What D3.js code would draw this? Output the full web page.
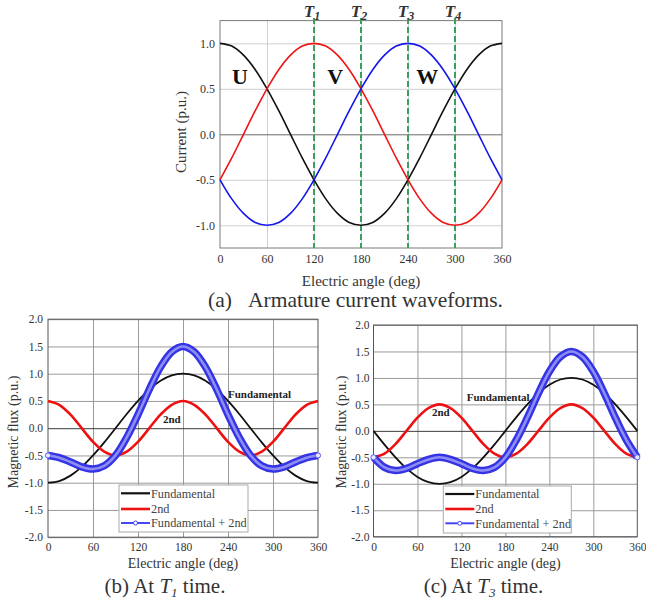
<!DOCTYPE html>
<html>
<head>
<meta charset="utf-8">
<script src="https://cdn.jsdelivr.net/npm/d3@7"></script>
<style>
  body { margin: 0; background: #fff; }
  svg { display: block; }
  text { font-family: "Liberation Serif", "Times New Roman", serif; fill: #333; }
</style>
</head>
<body>
<div id="fig"></div>
<script>
var angles = [0,15,30,45,60,75,90,105,120,135,150,165,180,195,210,225,240,255,270,285,300,315,330,345,360];
var xTicks = [0,60,120,180,240,300,360];
var currentTicks = [-1,-0.5,0,0.5,1];
var fluxTicks = [-2,-1.5,-1,-0.5,0,0.5,1,1.5,2];

// (a) three phase currents
var phaseU = [1.00,0.97,0.87,0.71,0.50,0.26,0.00,-0.26,-0.50,-0.71,-0.87,-0.97,-1.00,-0.97,-0.87,-0.71,-0.50,-0.26,0.00,0.26,0.50,0.71,0.87,0.97,1.00];
var phaseV = [-0.50,-0.26,0.00,0.26,0.50,0.71,0.87,0.97,1.00,0.97,0.87,0.71,0.50,0.26,0.00,-0.26,-0.50,-0.71,-0.87,-0.97,-1.00,-0.97,-0.87,-0.71,-0.50];
var phaseW = [-0.50,-0.71,-0.87,-0.97,-1.00,-0.97,-0.87,-0.71,-0.50,-0.26,0.00,0.26,0.50,0.71,0.87,0.97,1.00,0.97,0.87,0.71,0.50,0.26,0.00,-0.26,-0.50];
var phaseNames = ["U","V","W"];
var instants = [120,180,240,300];
var instantNames = ["1","2","3","4"];

// (b) at T1
var fundB = [-1.00,-0.97,-0.87,-0.71,-0.50,-0.26,0.00,0.26,0.50,0.71,0.87,0.97,1.00,0.97,0.87,0.71,0.50,0.26,0.00,-0.26,-0.50,-0.71,-0.87,-0.97,-1.00];
var secondB = [0.50,0.43,0.25,0.00,-0.25,-0.43,-0.50,-0.43,-0.25,0.00,0.25,0.43,0.50,0.43,0.25,0.00,-0.25,-0.43,-0.50,-0.43,-0.25,0.00,0.25,0.43,0.50];
var sumB = [-0.50,-0.54,-0.62,-0.71,-0.75,-0.69,-0.50,-0.17,0.25,0.71,1.12,1.40,1.50,1.40,1.12,0.71,0.25,-0.17,-0.50,-0.69,-0.75,-0.71,-0.62,-0.54,-0.50];

// (c) at T3
var fundC = [0.00,-0.26,-0.50,-0.71,-0.87,-0.97,-1.00,-0.97,-0.87,-0.71,-0.50,-0.26,0.00,0.26,0.50,0.71,0.87,0.97,1.00,0.97,0.87,0.71,0.50,0.26,0.00];
var secondC = [-0.50,-0.43,-0.25,0.00,0.25,0.43,0.50,0.43,0.25,0.00,-0.25,-0.43,-0.50,-0.43,-0.25,0.00,0.25,0.43,0.50,0.43,0.25,0.00,-0.25,-0.43,-0.50];
var sumC = [-0.50,-0.69,-0.75,-0.71,-0.62,-0.54,-0.50,-0.54,-0.62,-0.71,-0.75,-0.69,-0.50,-0.17,0.25,0.71,1.12,1.40,1.50,1.40,1.12,0.71,0.25,-0.17,-0.50];

var legendNames = ["Fundamental","2nd","Fundamental + 2nd"];

var width = 646, height = 601;
var svg = d3.select("#fig").append("svg")
  .attr("width", width)
  .attr("height", height);

// builds one plot frame with grid + tick labels, returns scales
function panel(o) {
  var x = d3.scaleLinear().domain([0,360]).range([o.left, o.right]);
  var y = d3.scaleLinear().domain(o.yDom).range([o.bottom, o.top]);
  var g = svg.append("g");

  g.append("g")
    .attr("transform", "translate(0," + o.bottom + ")")
    .call(d3.axisBottom(x).tickValues(xTicks.slice(1,-1)).tickSize(-(o.bottom - o.top)).tickFormat(""))
    .call(function(s){ s.select(".domain").remove(); })
    .selectAll("line").attr("stroke", o.grid);

  g.append("g")
    .attr("transform", "translate(" + o.left + ",0)")
    .call(d3.axisLeft(y).tickValues(o.yTicks).tickSize(-(o.right - o.left)).tickFormat(""))
    .call(function(s){ s.select(".domain").remove(); })
    .selectAll("line").attr("stroke", function(d){ return d === 0 ? o.zero : o.grid; });

  g.append("rect")
    .attr("x", o.left).attr("y", o.top)
    .attr("width", o.right - o.left).attr("height", o.bottom - o.top)
    .attr("fill", "none").attr("stroke", o.frame);

  var xa = g.append("g")
    .attr("transform", "translate(0," + o.bottom + ")")
    .call(d3.axisBottom(x).tickValues(xTicks).tickSize(0).tickPadding(o.padX));
  xa.select(".domain").remove();
  xa.attr("font-size", o.tickFont);

  var ya = g.append("g")
    .attr("transform", "translate(" + o.left + ",0)")
    .call(d3.axisLeft(y).tickValues(o.yTicks).tickSize(0).tickPadding(o.padY)
      .tickFormat(function(d){ return d.toFixed(1); }));
  ya.select(".domain").remove();
  ya.attr("font-size", o.tickFont);

  g.append("text")
    .attr("x", (o.left + o.right) / 2).attr("y", o.xTitleY)
    .attr("text-anchor", "middle").attr("font-size", o.titleFont)
    .text("Electric angle (deg)");

  g.append("text")
    .attr("transform", "translate(" + o.yTitleX + "," + o.yTitleMid + ") rotate(-90)")
    .attr("text-anchor", "middle").attr("font-size", o.titleFont)
    .text(o.yTitle);

  return {x: x, y: y, g: g};
}

function curve(p, vals, color, w) {
  var line = d3.line()
    .x(function(d, i){ return p.x(angles[i]); })
    .y(function(d){ return p.y(d); })
    .curve(d3.curveCatmullRom.alpha(0.5));
  return p.g.append("path").datum(vals)
    .attr("d", line)
    .attr("fill", "none").attr("stroke", color)
    .attr("stroke-width", w).attr("stroke-linejoin", "round");
}

// sum curve drawn as dense ring markers -> thick band with pale core
function band(p, vals) {
  curve(p, vals, "#3434e6", 7.5);
  curve(p, vals, "#8e8ef2", 2.6);
  p.g.selectAll(".endmark").data([0, vals.length - 1]).enter().append("circle")
    .attr("cx", function(i){ return p.x(angles[i]); })
    .attr("cy", function(i){ return p.y(vals[i]); })
    .attr("r", 2.6).attr("fill", "#e8e8ff").attr("stroke", "#5a5af0").attr("stroke-width", 1);
}

function legend(p, lx, ly, lw, rows) {
  var lg = p.g.append("g");
  lg.append("rect").attr("x", lx).attr("y", ly).attr("width", lw).attr("height", 47)
    .attr("fill", "#fff").attr("stroke", "#aaa");
  var colors = ["#111", "#ee1111", "#4646f5"];
  var widths = [2.2, 2.6, 2];
  legendNames.forEach(function(name, i){
    var yy = ly + rows[i];
    lg.append("line").attr("x1", lx + 2).attr("x2", lx + 31).attr("y1", yy).attr("y2", yy)
      .attr("stroke", colors[i]).attr("stroke-width", widths[i]);
    if (i === 2) {
      lg.append("circle").attr("cx", lx + 16.5).attr("cy", yy).attr("r", 2)
        .attr("fill", "#fff").attr("stroke", colors[i]).attr("stroke-width", 1);
    }
    lg.append("text").attr("x", lx + 32).attr("y", yy + 4.3)
      .attr("font-size", 12.3).style("fill", "#444").text(name);
  });
}

// ---------------- (a) ----------------
var pa = panel({
  left: 220, right: 502, top: 20.6, bottom: 248, yDom: [-1.25, 1.25], yTicks: currentTicks,
  grid: "#cfcfcf", zero: "#6a6a6a", frame: "#7a7a7a",
  padX: 6, padY: 5, tickFont: 12, titleFont: 15,
  xTitleY: 286, yTitle: "Current (p.u.)", yTitleX: 186, yTitleMid: 132
});

pa.g.selectAll(".instant").data(instants).enter().append("line")
  .attr("x1", function(d){ return pa.x(d); }).attr("x2", function(d){ return pa.x(d); })
  .attr("y1", 18).attr("y2", 248)
  .attr("stroke", "#3c9d5d").attr("stroke-width", 2).attr("stroke-dasharray", "6,3");

curve(pa, phaseU, "#111", 1.6);
curve(pa, phaseV, "#ee1515", 1.6);
curve(pa, phaseW, "#1515ee", 1.6);

var tl = pa.g.selectAll(".tlab").data(instants).enter().append("text")
  .attr("x", function(d){ return pa.x(d) - 2; }).attr("y", 17)
  .attr("text-anchor", "middle").attr("font-size", 17)
  .attr("font-weight", "bold").attr("font-style", "italic");
tl.append("tspan").text("T");
tl.append("tspan").attr("dy", 3).attr("font-size", 12).text(function(d, i){ return instantNames[i]; });

var phaseLabelAt = [25.5, 147, 264.5];
pa.g.selectAll(".plab").data(phaseNames).enter().append("text")
  .attr("x", function(d, i){ return pa.x(phaseLabelAt[i]); }).attr("y", 83.5)
  .attr("text-anchor", "middle").attr("font-size", 22).attr("font-weight", "bold")
  .style("fill", "#111")
  .text(function(d){ return d; });

var capA = svg.append("text").attr("y", 307).attr("font-size", 21.5);
capA.append("tspan").attr("x", 208).text("(a)");
capA.append("tspan").attr("x", 248).text("Armature current waveforms.");

// ---------------- (b) ----------------
var pb = panel({
  left: 48, right: 318, top: 319.2, bottom: 537.2, yDom: [-2, 2], yTicks: fluxTicks,
  grid: "#9a9a9a", zero: "#3a3a3a", frame: "#555",
  padX: 5.5, padY: 5, tickFont: 11.5, titleFont: 14,
  xTitleY: 568, yTitle: "Magnetic flux (p.u.)", yTitleX: 18, yTitleMid: 432
});
curve(pb, fundB, "#111", 1.8);
curve(pb, secondB, "#ee1111", 2.6);
band(pb, sumB);
pb.g.append("text").attr("x", 228).attr("y", 398).attr("font-size", 11).attr("font-weight", "bold")
  .style("fill", "#222").text("Fundamental");
pb.g.append("text").attr("x", 163).attr("y", 423).attr("font-size", 11).attr("font-weight", "bold")
  .style("fill", "#222").text("2nd");
legend(pb, 119, 485, 129, [8.3, 24, 38]);

var capB = svg.append("text").attr("x", 165).attr("y", 593).attr("text-anchor", "middle").attr("font-size", 21);
capB.append("tspan").text("(b) At ");
capB.append("tspan").attr("font-style", "italic").text("T");
capB.append("tspan").attr("font-style", "italic").attr("font-size", 13).attr("dy", 4).text("1");
capB.append("tspan").attr("dy", -4).text(" time.");

// ---------------- (c) ----------------
var pc = panel({
  left: 373.5, right: 637.3, top: 325, bottom: 536.7, yDom: [-2, 2], yTicks: fluxTicks,
  grid: "#9a9a9a", zero: "#3a3a3a", frame: "#555",
  padX: 6, padY: 4, tickFont: 11.5, titleFont: 14,
  xTitleY: 568, yTitle: "Magnetic flux (p.u.)", yTitleX: 346, yTitleMid: 432
});
curve(pc, fundC, "#111", 1.8);
curve(pc, secondC, "#ee1111", 2.6);
band(pc, sumC);
pc.g.append("text").attr("x", 466.7).attr("y", 401).attr("font-size", 11).attr("font-weight", "bold")
  .style("fill", "#222").text("Fundamental");
pc.g.append("text").attr("x", 432).attr("y", 415.5).attr("font-size", 11).attr("font-weight", "bold")
  .style("fill", "#222").text("2nd");
legend(pc, 443.3, 486, 128, [8, 23, 37.3]);

var capC = svg.append("text").attr("x", 483.5).attr("y", 593).attr("text-anchor", "middle").attr("font-size", 21);
capC.append("tspan").text("(c) At ");
capC.append("tspan").attr("font-style", "italic").text("T");
capC.append("tspan").attr("font-style", "italic").attr("font-size", 13).attr("dy", 4).text("3");
capC.append("tspan").attr("dy", -4).text(" time.");
</script>
</body>
</html>
